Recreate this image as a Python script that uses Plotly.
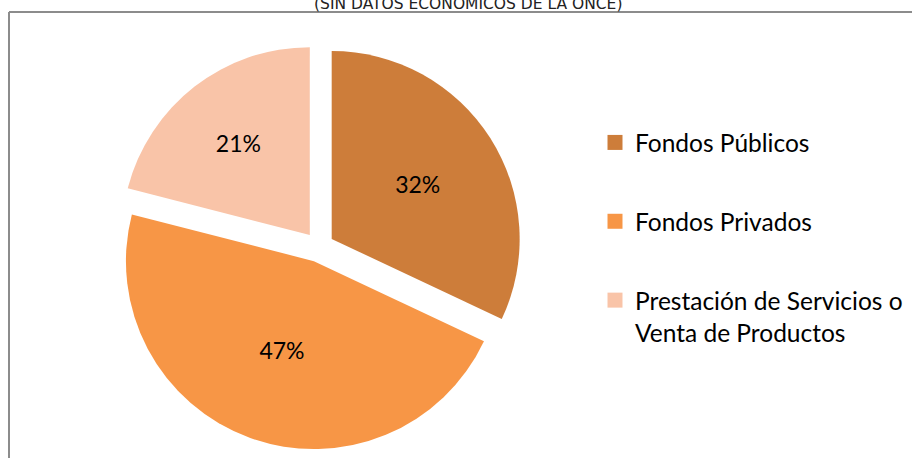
import plotly.graph_objects as go

# ---- data ----
categories = ["Fondos Públicos", "Fondos Privados", "Prestación de Servicios o<br>Venta de Productos"]
values = [32, 47, 21]
colors = ["#CD7D3A", "#F79646", "#F9C4A8"]
title_text = "(SIN DATOS ECONÓMICOS DE LA ONCE)"

W, H = 912, 458

fig = go.Figure()
fig.add_trace(go.Pie(
    labels=categories, values=values, sort=False, direction="clockwise", rotation=0,
    marker=dict(colors=colors, line=dict(width=0)),
    pull=[0.08] * len(values),
    textinfo="percent", texttemplate="%{percent:.0%}",
    textposition="inside", insidetextorientation="horizontal",
    insidetextfont=dict(family="Lato", size=23, color="#000000"),
    domain=dict(x=[116 / W, 522 / W], y=[1 - 450 / H, 1 - 44 / H]),
    showlegend=False, hoverinfo="label+percent",
))

# legend entries (one group per category so the spacing can be controlled)
for i, (name, col) in enumerate(zip(categories, colors)):
    fig.add_trace(go.Scatter(
        x=[None], y=[None], mode="markers", name=name, legendgroup=f"g{i}",
        marker=dict(symbol="square", size=15, color=col, line=dict(width=0)),
        hoverinfo="skip",
    ))

fig.update_layout(
    width=W, height=H,
    margin=dict(l=0, r=0, t=0, b=0, autoexpand=False),
    paper_bgcolor="white", plot_bgcolor="white",
    xaxis=dict(visible=False), yaxis=dict(visible=False),
    legend=dict(
        x=595 / W, xanchor="left", y=1 - 120 / H, yanchor="top",
        font=dict(family="Lato", size=24.5, color="#000000"),
        tracegroupgap=44, valign="top", bgcolor="rgba(0,0,0,0)",
    ),
    shapes=[
        dict(type="line", xref="paper", yref="paper", x0=9 / W, x1=9 / W, y0=-0.1, y1=1 - 12 / H,
             line=dict(color="#8c8c8c", width=2)),
        dict(type="line", xref="paper", yref="paper", x0=9 / W, x1=1.1, y0=1 - 12 / H, y1=1 - 12 / H,
             line=dict(color="#8c8c8c", width=2)),
    ],
    annotations=[
        dict(text=title_text, xref="paper", yref="paper", x=468 / W, y=1, xanchor="center",
             yanchor="middle", yshift=-3, showarrow=False,
             font=dict(family="DejaVu Sans", size=15.5, color="#222222")),
    ],
)

fig.write_html(
    "out.html",
    config={"displayModeBar": False},
    post_script="document.body.style.margin='0';document.body.style.overflow='hidden';",
)
